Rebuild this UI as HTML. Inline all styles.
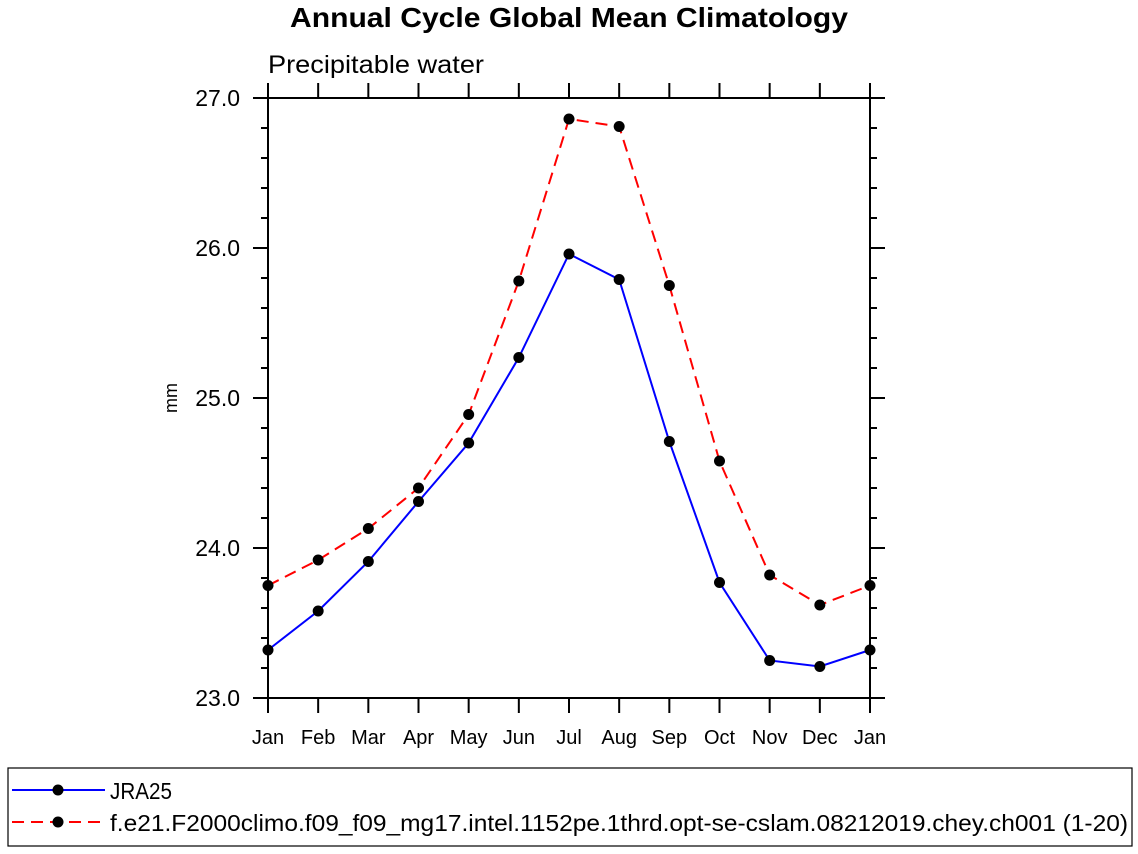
<!DOCTYPE html>
<html><head><meta charset="utf-8"><style>
html,body{margin:0;padding:0;background:#fff;}
svg{display:block;font-family:"Liberation Sans",Arial,sans-serif;}
</style></head><body>
<svg id="chart" width="1138" height="854" viewBox="0 0 1138 854">
<text x="290" y="27" textLength="558" lengthAdjust="spacingAndGlyphs" font-size="28" font-weight="bold">Annual Cycle Global Mean Climatology</text>
<text x="268" y="73" textLength="216" lengthAdjust="spacingAndGlyphs" font-size="25">Precipitable water</text>
<text transform="translate(177,398) rotate(-90)" text-anchor="middle" font-size="18">mm</text>
<g id="axes"></g>
<g id="series"></g>
<rect x="8" y="768" width="1124" height="78" fill="none" stroke="#000" stroke-width="1.2"/>
<g>
<line x1="12" y1="790" x2="105" y2="790" stroke="#0000ff" stroke-width="2"/>
<circle cx="58" cy="790" r="5.5" fill="#000"/>
<text x="110" y="799" textLength="62" lengthAdjust="spacingAndGlyphs" font-size="23">JRA25</text>
</g>
<g>
<line x1="12" y1="822" x2="105" y2="822" stroke="#ff0000" stroke-width="2" stroke-dasharray="12,7"/>
<circle cx="58" cy="822" r="5.5" fill="#000"/>
<text x="110" y="831" textLength="1018" lengthAdjust="spacingAndGlyphs" font-size="23">f.e21.F2000climo.f09_f09_mg17.intel.1152pe.1thrd.opt-se-cslam.08212019.chey.ch001 (1-20)</text>
</g>
</svg>
<script>
const months = ["Jan","Feb","Mar","Apr","May","Jun","Jul","Aug","Sep","Oct","Nov","Dec","Jan"];
const jra25 = [23.32,23.58,23.91,24.31,24.70,25.27,25.96,25.79,24.71,23.77,23.25,23.21,23.32];
const model = [23.75,23.92,24.13,24.40,24.89,25.78,26.86,26.81,25.75,24.58,23.82,23.62,23.75];
const yTicks = ["23.0","24.0","25.0","26.0","27.0"];
const L=268,R=870,T=98,B=698,yMin=23,yMax=27;
const NS="http://www.w3.org/2000/svg";
function xs(i){return L+(R-L)*i/(months.length-1);}
function ys(v){return B-(B-T)*(v-yMin)/(yMax-yMin);}
function mk(tag,attrs,parent){const e=document.createElementNS(NS,tag);for(const k in attrs)e.setAttribute(k,attrs[k]);parent.appendChild(e);return e;}
const ax=document.getElementById('axes');
const frame=mk('rect',{x:L,y:T,width:R-L,height:B-T,fill:'none',stroke:'#000','stroke-width':2},ax);


for(let i=0;i<months.length;i++){
  const x=xs(i);
  mk('line',{x1:x,y1:B,x2:x,y2:B+15,stroke:'#000','stroke-width':2},ax);
  mk('line',{x1:x,y1:T,x2:x,y2:T-15,stroke:'#000','stroke-width':2},ax);
  const t=mk('text',{x:x,y:B+46,'text-anchor':'middle','font-size':20},ax);
  t.textContent=months[i];
  
  
}
for(let v=yMin;v<=yMax+1e-9;v+=0.2){
  const y=ys(v);const major=Math.abs(v-Math.round(v))<1e-6;const len=major?15:7;
  mk('line',{x1:L,y1:y,x2:L-len,y2:y,stroke:'#000','stroke-width':2},ax);
  mk('line',{x1:R,y1:y,x2:R+len,y2:y,stroke:'#000','stroke-width':2},ax);
}
yTicks.forEach(s=>{
  const t=mk('text',{x:240,y:ys(parseFloat(s))+8,'text-anchor':'end','font-size':23},ax);
  t.textContent=s;
  
  
});
const sg=document.getElementById('series');
function draw(vals,color,dash,name){
  const g=mk('g',{},sg);
  
  
  const pts=vals.map((v,i)=>xs(i)+','+ys(v)).join(' ');
  const a={points:pts,fill:'none',stroke:color,'stroke-width':2};
  if(dash)a['stroke-dasharray']=dash;
  mk('polyline',a,g);
  vals.forEach((v,i)=>{
    const c=mk('circle',{cx:xs(i),cy:ys(v),r:5.5,fill:'#000'},g);
    
    
  });
}
draw(jra25,'#0000ff',null,'series-jra25');
draw(model,'#ff0000','12,7','series-model');
</script>
</body></html>
